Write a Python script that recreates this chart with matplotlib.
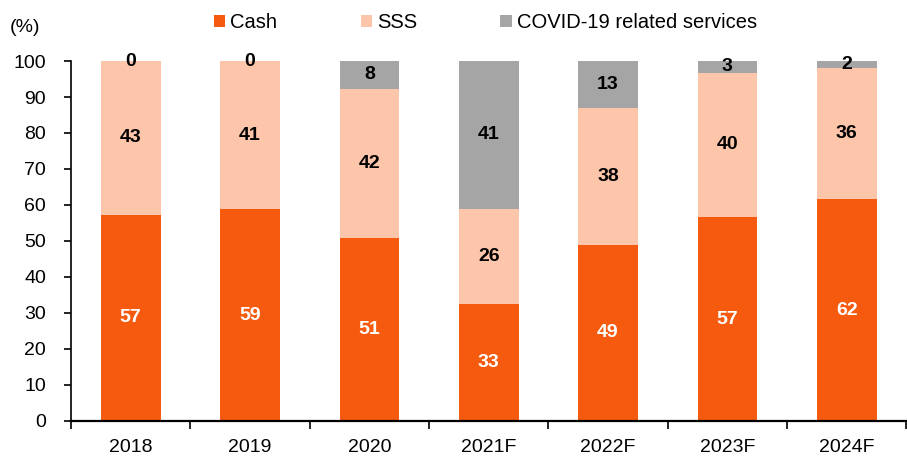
import numpy as np
import matplotlib
matplotlib.use("Agg")
import matplotlib.pyplot as plt

plt.rcParams["font.family"] = ["Liberation Sans", "DejaVu Sans"]

# ---- data ----
years = ["2018", "2019", "2020", "2021F", "2022F", "2023F", "2024F"]
cash = [57.3, 58.8, 50.7, 32.6, 49.0, 56.6, 61.6]
sss = [42.7, 41.2, 41.6, 26.4, 38.0, 40.2, 36.4]
covid = [0.0, 0.0, 7.7, 41.0, 13.0, 3.2, 2.0]

C_CASH = "#F55A0F"
C_SSS = "#FDC6AB"
C_COVID = "#A5A5A5"

fig = plt.figure(figsize=(9.07, 4.59), dpi=100)
ax = fig.add_axes([0.0783, 0.0828, 0.921, 0.7843])

x = np.arange(len(years))
w = 0.5
cash = np.array(cash)
sss = np.array(sss)
covid = np.array(covid)

ax.bar(x, cash, w, color=C_CASH, label="Cash")
ax.bar(x, sss, w, bottom=cash, color=C_SSS, label="SSS")
ax.bar(x, covid, w, bottom=cash + sss, color=C_COVID,
       label="COVID-19 related services")

# data labels, centred in each segment
for i in range(len(years)):
    ax.text(x[i], cash[i] / 2, f"{cash[i]:.0f}", ha="center", va="center",
            color="white", fontsize=14, fontweight="bold")
    ax.text(x[i], cash[i] + sss[i] / 2, f"{sss[i]:.0f}", ha="center",
            va="center", color="black", fontsize=14, fontweight="bold")
    ax.text(x[i], cash[i] + sss[i] + covid[i] / 2, f"{covid[i]:.0f}",
            ha="center", va="center", color="black", fontsize=14,
            fontweight="bold")

ax.set_xlim(-0.5, len(years) - 0.5)
ax.set_ylim(0, 100)
ax.set_yticks(np.arange(0, 101, 10))
ax.set_xticks(x)
ax.set_xticklabels(years)
ax.set_xticks(np.arange(-0.5, len(years), 1), minor=True)
ax.tick_params(axis="x", which="major", length=0, pad=13, labelsize=14)
ax.tick_params(axis="x", which="minor", length=6, width=1.2, direction="out")
ax.tick_params(axis="y", length=5, width=1.2, direction="out", labelsize=14,
               pad=13)

for s in ["top", "right"]:
    ax.spines[s].set_visible(False)
ax.spines["left"].set_linewidth(1.2)
ax.spines["bottom"].set_linewidth(1.6)

fig.text(0.011, 0.94, "(%)", fontsize=14, va="center", ha="left")

ax.legend(loc="center", bbox_to_anchor=(0.496, 1.106), ncol=3, frameon=False,
          fontsize=14.5, handlelength=0.55, handleheight=0.55,
          handletextpad=0.25, columnspacing=4.15)

fig.savefig("out.png", dpi=100)
